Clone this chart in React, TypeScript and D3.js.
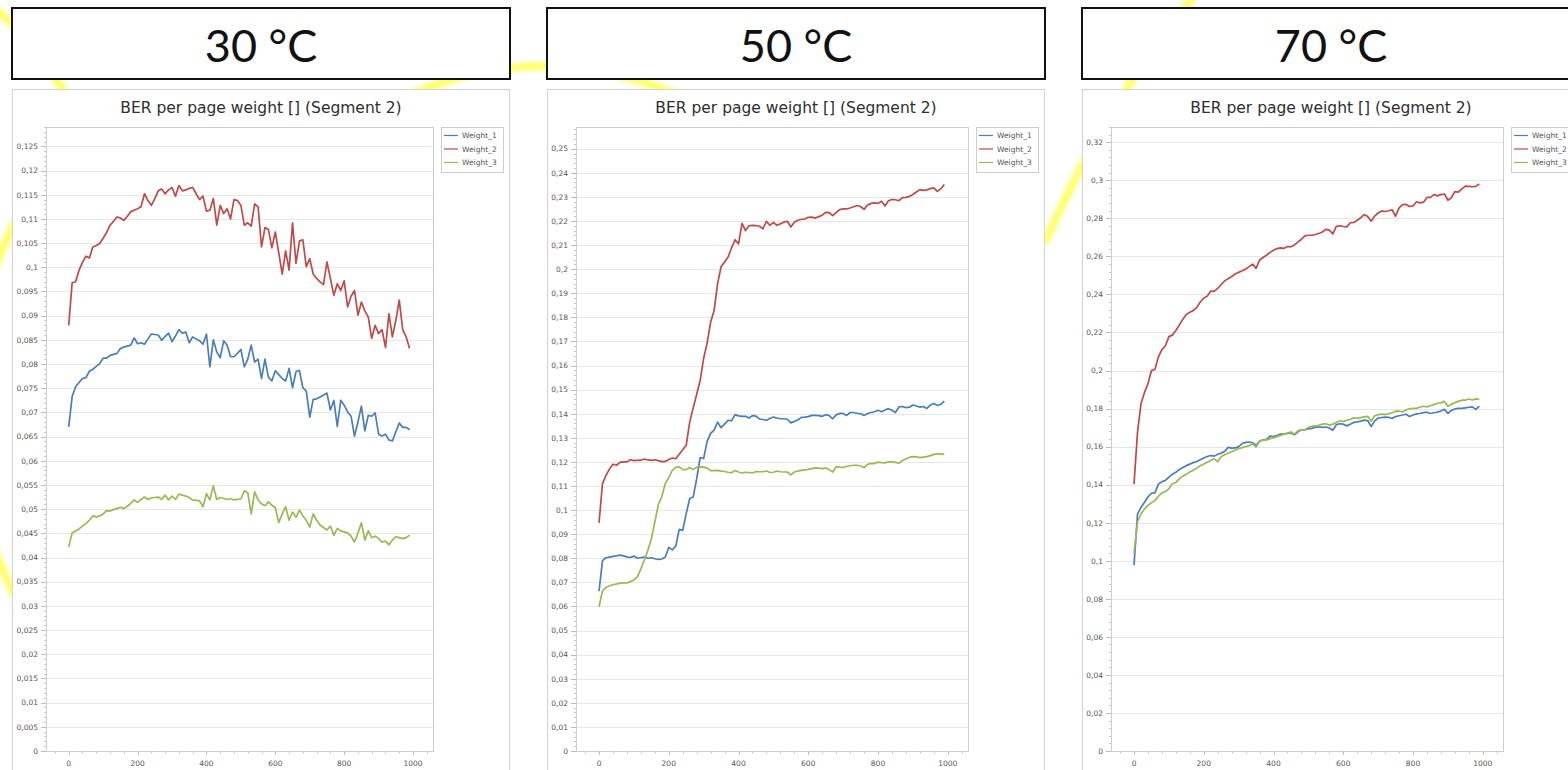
import React, { useEffect, useRef } from "react";
import * as d3 from "d3";

const WIDTH = 1568;
const HEIGHT = 770;

// sample positions on the x axis (page index)
const xValues = d3.range(0, 1000, 10);

const seriesNames = ["Weight_1", "Weight_2", "Weight_3"];
const seriesColors = ["#4a7ebb", "#be4b48", "#98b954"];
const xTickLabels = [0, 200, 400, 600, 800, 1000];

// 30 °C
const w1_30 = [
  .067, .0733, .0753, .0762, .077, .0772, .0785, .0789, .0795, .0801,
  .0812, .0812, .0818, .082, .0822, .0832, .0835, .0837, .0839, .0854,
  .0842, .0844, .0841, .0852, .0862, .0861, .086, .0849, .0857, .0864,
  .0846, .0858, .0871, .0864, .0866, .0844, .0856, .0852, .0848, .0841,
  .0862, .0794, .085, .0825, .0813, .0848, .0839, .0815, .0815, .0822,
  .083, .0794, .081, .0839, .0804, .081, .077, .081, .0773, .0765,
  .0786, .0778, .077, .0765, .0791, .0751, .0784, .0787, .0751, .0744,
  .069, .0727, .0728, .0732, .0736, .074, .0705, .0725, .0671, .0725,
  .0715, .0701, .0692, .0651, .068, .0713, .0662, .0694, .0692, .0699,
  .0655, .0651, .0655, .0643, .0641, .066, .0678, .0669, .0669, .0664,
];
const w2_30 = [
  .088, .0968, .097, .0994, .101, .1023, .1019, .1042, .1045, .1049,
  .106, .1072, .1087, .1095, .1104, .1102, .1097, .1105, .1115, .1118,
  .1121, .1125, .1152, .1138, .1128, .1142, .1158, .1162, .1152, .116,
  .1165, .1147, .1169, .1158, .116, .1163, .1165, .1152, .114, .1147,
  .1116, .1118, .1142, .1087, .1128, .1111, .1121, .110, .114, .1138,
  .1128, .1087, .1092, .1085, .1131, .1125, .1042, .1082, .1078, .104,
  .1073, .103, .0986, .1034, .0994, .1092, .1008, .1054, .1057, .1001,
  .1018, .0986, .0977, .097, .0964, .1011, .0977, .0942, .0966, .0952,
  .0972, .0918, .094, .0952, .0901, .0928, .091, .0897, .0853, .088,
  .0863, .0871, .0834, .0904, .0856, .089, .0932, .0871, .0856, .0832,
];
const w3_30 = [
  .0422, .0451, .0455, .0459, .0465, .047, .0477, .0486, .0484, .0486,
  .049, .0497, .0496, .0499, .0501, .0504, .0501, .0506, .0512, .0519,
  .0514, .052, .0525, .052, .0523, .0524, .0525, .052, .0529, .0519,
  .0527, .052, .0531, .0529, .0527, .0524, .0519, .0518, .0517, .0505,
  .0532, .0519, .0548, .052, .0524, .0522, .052, .0522, .0519, .052,
  .0521, .0538, .0534, .049, .0536, .0519, .0511, .0507, .0515, .0508,
  .0503, .0472, .049, .0505, .0477, .0494, .0483, .0498, .0486, .0477,
  .0463, .049, .0477, .0467, .0462, .0457, .0465, .0446, .046, .0455,
  .0453, .0451, .0444, .0432, .045, .0472, .0436, .0455, .0441, .0444,
  .0439, .0432, .0434, .0426, .0436, .0443, .0441, .0439, .0441, .0446,
];

// 50 °C
const w1_50 = [
  .0663, .079, .0802, .0805, .0808, .081, .0813, .081, .0806, .0803,
  .0809, .08, .0803, .0805, .08, .0802, .0798, .0795, .0797, .0805,
  .0845, .0835, .085, .092, .0916, .0985, .1048, .1054, .113, .1218,
  .1214, .1285, .1318, .1332, .1365, .1342, .1357, .1373, .137, .1396,
  .1391, .1389, .1389, .1382, .1392, .139, .1378, .1376, .1373, .138,
  .1386, .1382, .1379, .1379, .1377, .1362, .1368, .1374, .1385, .1386,
  .1388, .1393, .1393, .1392, .1389, .1396, .1392, .1379, .1395, .1401,
  .1401, .1393, .1405, .1405, .1402, .14, .1393, .1401, .1405, .1408,
  .1414, .1408, .1415, .1421, .1414, .1405, .1428, .143, .1425, .1427,
  .1436, .1432, .1427, .143, .1422, .1436, .1442, .1434, .1439, .1452,
];
const w2_50 = [
  .0947, .111, .1144, .117, .119, .1186, .1198, .12, .12, .1209,
  .1205, .1206, .1207, .1212, .1208, .1206, .1209, .1205, .1201, .1202,
  .121, .1216, .1213, .1232, .125, .1269, .1365, .1424, .148, .1538,
  .163, .1693, .178, .1828, .194, .201, .203, .205, .2088, .2122,
  .2105, .219, .216, .218, .2182, .2181, .2178, .2167, .2198, .2182,
  .2194, .2182, .2188, .2195, .2199, .2175, .2195, .2203, .2207, .2208,
  .2215, .2216, .2212, .2218, .2224, .2236, .2235, .2222, .2235, .2247,
  .225, .225, .2254, .2259, .2264, .226, .2248, .2266, .2273, .2275,
  .2273, .2282, .2262, .2284, .2289, .2288, .2284, .2297, .2298, .2302,
  .231, .232, .233, .2327, .2329, .2334, .2337, .2323, .2333, .2351,
];
const w3_50 = [
  .0598, .0665, .0679, .0686, .069, .0693, .0696, .0699, .0697, .0703,
  .071, .0723, .0756, .0792, .0833, .088, .095, .1022, .1056, .111,
  .1135, .1165, .1177, .1179, .1168, .1168, .1177, .1168, .1178, .1179,
  .1178, .1174, .1164, .1164, .1165, .1162, .116, .1157, .1155, .1164,
  .1158, .1154, .1157, .1156, .1154, .116, .1159, .1159, .1162, .1156,
  .1157, .1162, .1159, .1158, .1158, .1146, .1158, .1162, .1165, .1167,
  .1169, .1172, .1175, .1174, .1172, .1175, .1168, .1158, .118, .1178,
  .1177, .1182, .1184, .1186, .1186, .1183, .1176, .119, .1194, .1193,
  .1199, .1197, .1196, .12, .12, .1198, .1195, .1206, .1212, .1219,
  .1222, .1221, .1218, .122, .1222, .1226, .1231, .1233, .1233, .1231,
];

// 70 °C
const w1_70 = [
  .0977, .1245, .128, .1308, .1335, .1355, .1357, .1403, .1416, .1422,
  .144, .1455, .1465, .148, .149, .15, .1508, .1516, .1522, .1531,
  .154, .1548, .1553, .155, .156, .1566, .1575, .1596, .1592, .1593,
  .16, .1616, .1622, .1624, .162, .1607, .1628, .1636, .1638, .1655,
  .1653, .1658, .1666, .1666, .167, .1671, .1662, .1678, .1688, .169,
  .1693, .1696, .1702, .1703, .1701, .1703, .1698, .1686, .1715, .172,
  .1718, .1709, .1718, .1727, .173, .1734, .1739, .1737, .1705, .1735,
  .175, .1753, .1755, .1754, .1748, .1758, .1762, .1766, .177, .1758,
  .1766, .1772, .1774, .1779, .1781, .1774, .1778, .1781, .1787, .1796,
  .1775, .179, .1798, .1801, .1801, .1804, .1807, .1809, .1796, .1813,
];
const w2_70 = [
  .1403, .1675, .1825, .1885, .193, .2, .2006, .2072, .211, .213,
  .2178, .2186, .221, .224, .227, .2295, .2306, .2315, .2332, .236,
  .2381, .2391, .2418, .2416, .2432, .2452, .2471, .2483, .2494, .2507,
  .2516, .2524, .2533, .2546, .2559, .2537, .2581, .2594, .2606, .2621,
  .2632, .2641, .2645, .2642, .2652, .265, .266, .2675, .269, .2708,
  .2711, .2711, .2715, .272, .2728, .2742, .2738, .2718, .2758, .2761,
  .2757, .2755, .2777, .2778, .279, .2803, .282, .281, .2785, .2812,
  .2828, .2839, .2836, .284, .2845, .2811, .2855, .2872, .2873, .2862,
  .2865, .2887, .2881, .2885, .291, .291, .2925, .2918, .2925, .2928,
  .2895, .2908, .294, .2938, .2955, .2969, .2968, .2966, .2968, .298,
];
const w3_70 = [
  .1039, .1205, .1246, .1272, .1291, .1305, .1316, .1339, .1357, .1364,
  .1378, .1405, .1411, .1432, .1445, .1454, .1467, .1476, .1487, .1499,
  .1508, .1518, .1527, .1536, .1521, .1548, .1557, .1565, .1573, .1582,
  .159, .1595, .16, .1605, .1614, .1598, .163, .1634, .1635, .1642,
  .1646, .1652, .1659, .1665, .1671, .1677, .1665, .1683, .1689, .1687,
  .1701, .1706, .1709, .1712, .1718, .172, .1713, .1718, .1726, .1736,
  .1732, .1738, .1744, .1751, .1748, .1752, .1756, .1759, .1733, .1762,
  .1768, .1771, .1768, .1772, .1778, .1786, .1786, .1783, .1793, .1798,
  .1801, .1801, .1808, .1812, .1809, .1815, .1822, .1828, .183, .1838,
  .1812, .1822, .1831, .1838, .1844, .1844, .185, .1845, .1851, .1848,
];

const temps = ["30 °C", "50 °C", "70 °C"];
const yTops = [0.125, 0.25, 0.32];
const ySteps = [0.005, 0.01, 0.02];
const yMaxes = [0.129, 0.259, 0.328];

const panels = [
  { temp: temps[0], frameX: 12, plotLeft: 46, plotRight: 433, yTop: yTops[0], yStep: ySteps[0], yMax: yMaxes[0], series: [w1_30, w2_30, w3_30] },
  { temp: temps[1], frameX: 547, plotLeft: 576, plotRight: 968, yTop: yTops[1], yStep: ySteps[1], yMax: yMaxes[1], series: [w1_50, w2_50, w3_50] },
  { temp: temps[2], frameX: 1082, plotLeft: 1111, plotRight: 1503, yTop: yTops[2], yStep: ySteps[2], yMax: yMaxes[2], series: [w1_70, w2_70, w3_70] },
];

const PLOT_TOP = 127;
const PLOT_BOTTOM = 751;
const FRAME_W = 498;
const AXIS_FONT = "'DejaVu Sans', Verdana, sans-serif";

const fmt = (v: number) => String(+v.toFixed(3)).replace(".", ",");

function drawBackground(svg: any) {
  const defs = svg.append("defs");
  defs.append("filter").attr("id", "glow")
    .attr("x", "-20%").attr("y", "-20%").attr("width", "140%").attr("height", "140%")
    .append("feGaussianBlur").attr("stdDeviation", 2);

  // decorative slide swooshes, mostly hidden behind the panels
  const arcs = [
    "M -8 6 Q 32 38 72 104",
    "M 15 222 A 411 411 0 0 0 14 594",
    "M 400 100 Q 540 32 690 100",
    "M 1196 -6 Q 1112 92 1046 240",
  ];
  svg.append("g").selectAll("path").data(arcs).join("path")
    .attr("d", (d: string) => d)
    .attr("fill", "none")
    .attr("stroke", "#ffff55")
    .attr("stroke-opacity", 0.9)
    .attr("stroke-width", 8)
    .attr("stroke-linecap", "round")
    .attr("filter", "url(#glow)");
}

function drawPanel(svg: any, p: any) {
  const g = svg.append("g");

  // header box
  g.append("rect")
    .attr("x", p.frameX).attr("y", 8)
    .attr("width", FRAME_W).attr("height", 71)
    .attr("fill", "#fff").attr("stroke", "#111").attr("stroke-width", 2);
  g.append("text")
    .attr("x", p.frameX + FRAME_W / 2).attr("y", 62)
    .attr("text-anchor", "middle")
    .attr("font-family", "Lato, 'Open Sans', sans-serif")
    .attr("font-weight", 400)
    .attr("font-size", 45)
    .attr("fill", "#111")
    .text(p.temp);

  // chart frame
  g.append("rect")
    .attr("x", p.frameX + 0.5).attr("y", 89.5)
    .attr("width", FRAME_W - 1).attr("height", 700)
    .attr("fill", "#fff").attr("stroke", "#d2d2d2");
  g.append("text")
    .attr("x", p.frameX + FRAME_W / 2).attr("y", 113)
    .attr("text-anchor", "middle")
    .attr("font-family", AXIS_FONT)
    .attr("font-size", 15.5)
    .attr("fill", "#2e2e2e")
    .text("BER per page weight [] (Segment 2)");

  const x = d3.scaleLinear().domain([-66, 1058]).range([p.plotLeft, p.plotRight]);
  const y = d3.scaleLinear().domain([0, p.yMax]).range([PLOT_BOTTOM, PLOT_TOP]);

  const nMajor = Math.round(p.yTop / p.yStep);
  const majors = d3.range(0, nMajor + 1).map((i) => i * p.yStep);
  const minors = d3.range(0, nMajor * 5 + 5).map((i) => (i * p.yStep) / 5).filter((v) => v <= p.yMax);

  // gridlines
  g.append("g").selectAll("line").data(majors.filter((v) => v > 0)).join("line")
    .attr("x1", p.plotLeft).attr("x2", p.plotRight)
    .attr("y1", (d: number) => Math.round(y(d)) + 0.5).attr("y2", (d: number) => Math.round(y(d)) + 0.5)
    .attr("stroke", "#e6e6e6");

  g.append("rect")
    .attr("x", p.plotLeft + 0.5).attr("y", PLOT_TOP + 0.5)
    .attr("width", p.plotRight - p.plotLeft).attr("height", PLOT_BOTTOM - PLOT_TOP)
    .attr("fill", "none").attr("stroke", "#cdcdcd");

  // y ticks
  g.append("g").selectAll("line").data(minors).join("line")
    .attr("x1", p.plotLeft - 2).attr("x2", p.plotLeft)
    .attr("y1", (d: number) => Math.round(y(d)) + 0.5).attr("y2", (d: number) => Math.round(y(d)) + 0.5)
    .attr("stroke", "#c4c4c4");
  g.append("g").selectAll("line").data(majors).join("line")
    .attr("x1", p.plotLeft - 5).attr("x2", p.plotLeft)
    .attr("y1", (d: number) => Math.round(y(d)) + 0.5).attr("y2", (d: number) => Math.round(y(d)) + 0.5)
    .attr("stroke", "#bdbdbd");
  g.append("g").selectAll("text").data(majors).join("text")
    .attr("x", p.plotLeft - 8).attr("y", (d: number) => y(d) + 2.8)
    .attr("text-anchor", "end")
    .attr("font-family", AXIS_FONT).attr("font-size", 7.5).attr("fill", "#555")
    .text((d: number) => fmt(d));

  // x ticks
  const xMinors = d3.range(-40, 1060, 40);
  g.append("g").selectAll("line").data(xMinors).join("line")
    .attr("x1", (d: number) => Math.round(x(d)) + 0.5).attr("x2", (d: number) => Math.round(x(d)) + 0.5)
    .attr("y1", PLOT_BOTTOM).attr("y2", PLOT_BOTTOM + 2.5)
    .attr("stroke", "#c4c4c4");
  g.append("g").selectAll("line").data(xTickLabels).join("line")
    .attr("x1", (d: number) => Math.round(x(d)) + 0.5).attr("x2", (d: number) => Math.round(x(d)) + 0.5)
    .attr("y1", PLOT_BOTTOM).attr("y2", PLOT_BOTTOM + 4)
    .attr("stroke", "#bdbdbd");
  g.append("g").selectAll("text").data(xTickLabels).join("text")
    .attr("x", (d: number) => x(d)).attr("y", 766)
    .attr("text-anchor", "middle")
    .attr("font-family", AXIS_FONT).attr("font-size", 7.5).attr("fill", "#555")
    .text((d: number) => String(d));

  // series
  const line = d3.line<number>()
    .x((_d, i) => x(xValues[i]))
    .y((d) => y(d));
  p.series.forEach((vals: number[], i: number) => {
    g.append("path")
      .attr("d", line(vals))
      .attr("fill", "none")
      .attr("stroke", seriesColors[i])
      .attr("stroke-width", 1.7)
      .attr("stroke-linejoin", "round");
  });

  // legend
  const lx = p.plotRight + 8;
  const lg = g.append("g");
  lg.append("rect")
    .attr("x", lx + 0.5).attr("y", PLOT_TOP + 0.5)
    .attr("width", 62).attr("height", 45)
    .attr("fill", "#fff").attr("stroke", "#cdcdcd");
  seriesNames.forEach((name, i) => {
    const ly = PLOT_TOP + 8.5 + i * 13.5;
    lg.append("line")
      .attr("x1", lx + 3).attr("x2", lx + 17)
      .attr("y1", ly).attr("y2", ly)
      .attr("stroke", seriesColors[i]).attr("stroke-width", 1.2);
    lg.append("text")
      .attr("x", lx + 21).attr("y", ly + 2.8)
      .attr("font-family", AXIS_FONT).attr("font-size", 7.5).attr("fill", "#555")
      .text(name);
  });
}

export default function App() {
  const ref = useRef<SVGSVGElement>(null);

  useEffect(() => {
    const svg = d3.select(ref.current);
    svg.selectAll("*").remove();
    svg.append("rect").attr("width", WIDTH).attr("height", HEIGHT).attr("fill", "#fff");
    drawBackground(svg);
    panels.forEach((p) => drawPanel(svg, p));
  }, []);

  return (
    <div style={{ position: "absolute", left: 0, top: 0 }}>
      <svg ref={ref} width={WIDTH} height={HEIGHT} style={{ display: "block" }} />
    </div>
  );
}
